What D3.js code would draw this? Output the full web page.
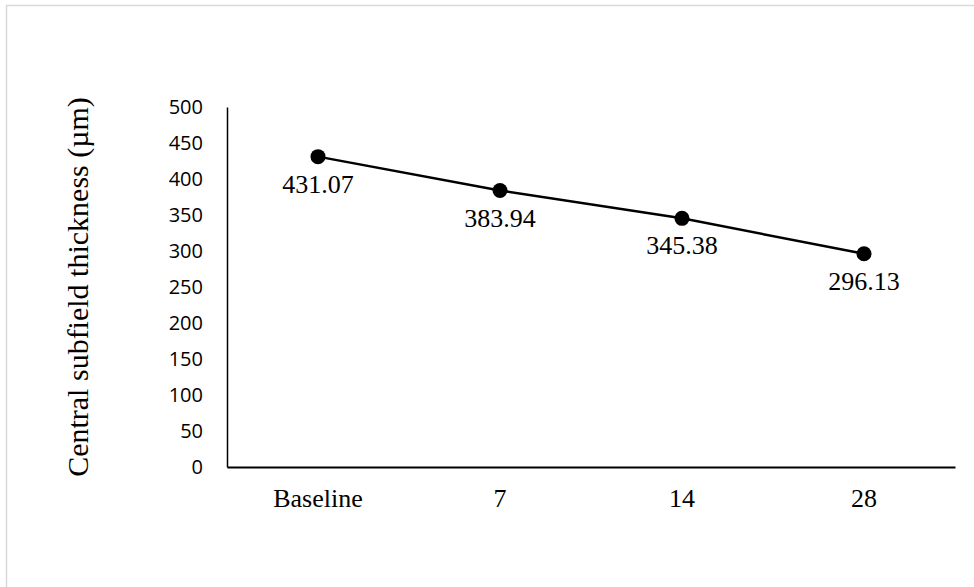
<!DOCTYPE html>
<html>
<head>
<meta charset="utf-8">
<script src="https://cdn.jsdelivr.net/npm/d3@7"></script>
<style>
  body { margin: 0; background: #fff; }
</style>
</head>
<body>
<svg class="plot" width="974" height="587"></svg>
<script>
// data
var categories = ["Baseline", "7", "14", "28"];
var values = [431.07, 383.94, 345.38, 296.13];
var yTicks = [0, 50, 100, 150, 200, 250, 300, 350, 400, 450, 500];

var svg = d3.select(".plot"),
    margin = {top: 107, right: 19, bottom: 120, left: 227},
    width = +svg.attr("width") - margin.left - margin.right,
    height = +svg.attr("height") - margin.top - margin.bottom;

// outer frame (only top and left edges show in the picture)
svg.append("rect")
    .attr("x", 6.5).attr("y", 5.5)
    .attr("width", 1000).attr("height", 1000)
    .attr("fill", "none")
    .attr("stroke", "#d9d9d9")
    .attr("stroke-width", 1.5);

var x = d3.scaleBand().domain(categories).range([0, width]),
    y = d3.scaleLinear().domain([0, 500]).range([height, 0]);

var g = svg.append("g")
    .attr("transform", "translate(" + margin.left + "," + margin.top + ")");

// y axis: line and labels, no ticks
var yAxis = g.append("g")
    .call(d3.axisLeft(y).tickValues(yTicks).tickSize(0).tickPadding(24));
yAxis.select(".domain").attr("stroke", "#000").attr("stroke-width", 1.5);
yAxis.selectAll("text")
    .style("font-family", "'Open Sans', sans-serif")
    .style("font-size", "20px")
    .attr("fill", "#000");

// x axis
var xAxis = g.append("g")
    .attr("transform", "translate(0," + height + ")")
    .call(d3.axisBottom(x).tickSize(0).tickPadding(22));
xAxis.select(".domain").attr("stroke", "#000").attr("stroke-width", 2);
xAxis.selectAll("text")
    .style("font-family", "'Liberation Serif', 'Times New Roman', serif")
    .style("font-size", "26px")
    .attr("fill", "#000");

// y title
svg.append("text")
    .attr("transform", "translate(" + 88 + "," + (margin.top + height / 2) + ")rotate(-90)")
    .style("font-family", "'Liberation Serif', 'Times New Roman', serif")
    .style("font-size", "30px")
    .style("text-anchor", "middle")
    .text("Central subfield thickness (µm)");

var pts = categories.map(function(c, i) { return {cat: c, v: values[i]}; });

var line = d3.line()
    .x(function(d) { return x(d.cat) + x.bandwidth() / 2; })
    .y(function(d) { return y(d.v); });

g.append("path")
    .datum(pts)
    .attr("d", line)
    .attr("fill", "none")
    .attr("stroke", "#000")
    .attr("stroke-width", 2.5);

g.selectAll(".dot")
    .data(pts)
    .enter().append("circle")
    .attr("class", "dot")
    .attr("cx", function(d) { return x(d.cat) + x.bandwidth() / 2; })
    .attr("cy", function(d) { return y(d.v); })
    .attr("r", 7.5)
    .attr("fill", "#000");

g.selectAll(".val")
    .data(pts)
    .enter().append("text")
    .attr("class", "val")
    .attr("x", function(d) { return x(d.cat) + x.bandwidth() / 2; })
    .attr("y", function(d) { return y(d.v) + 36; })
    .style("font-family", "'Liberation Serif', 'Times New Roman', serif")
    .style("font-size", "26px")
    .style("text-anchor", "middle")
    .text(function(d) { return d.v.toFixed(2); });
</script>
</body>
</html>
